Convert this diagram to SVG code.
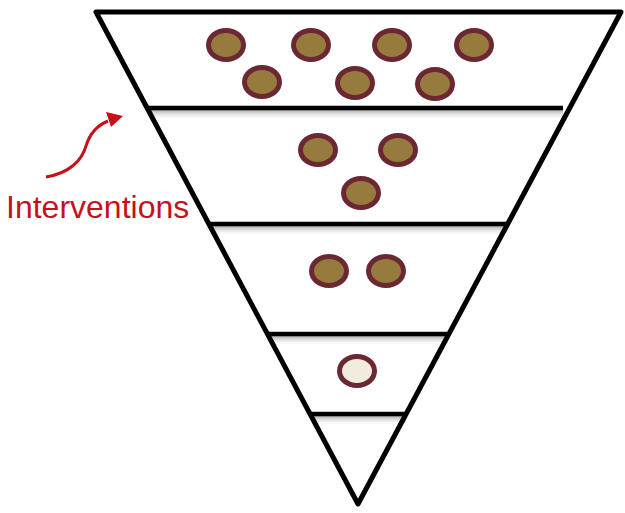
<svg xmlns="http://www.w3.org/2000/svg" width="625" height="513" viewBox="0 0 625 513">
<style>
.edge{fill:none;stroke:#000;stroke-width:5;stroke-linejoin:round}
.div{stroke:#000;stroke-width:4.5;fill:none}
.dot{fill:#977A3D;stroke:#6B2833;stroke-width:5}
.dot-empty{fill:#F3EBDD;stroke:#6B2833;stroke-width:5}
.lbl{font-family:"Liberation Sans",Arial,sans-serif;font-size:32px;fill:#C8101A}
</style>
<defs>
<linearGradient id="sh" x1="0" y1="0" x2="0" y2="1">
<stop offset="0" stop-color="#888" stop-opacity="0.7"/>
<stop offset="1" stop-color="#fff" stop-opacity="0"/>
</linearGradient>
</defs>
<rect width="625" height="513" fill="#fff"/>
<g id="funnel">
<rect x="150" y="110" width="413" height="10" fill="url(#sh)"/>
<rect x="212" y="226" width="296" height="10" fill="url(#sh)"/>
<rect x="270" y="336" width="178" height="10" fill="url(#sh)"/>
<rect x="313" y="416" width="93" height="10" fill="url(#sh)"/>
<polygon class="edge" points="96,12 621,12 358,504"/>
<line class="div" x1="147" y1="108" x2="563" y2="108"/>
<line class="div" x1="209" y1="224" x2="508" y2="224"/>
<line class="div" x1="268" y1="334" x2="449" y2="334"/>
<line class="div" x1="310" y1="414" x2="406" y2="414"/>
</g>
<g id="tier1">
<ellipse class="dot" cx="226" cy="45" rx="17.5" ry="14.5"/>
<ellipse class="dot" cx="311" cy="45" rx="17.5" ry="14.5"/>
<ellipse class="dot" cx="392" cy="45" rx="17.5" ry="14.5"/>
<ellipse class="dot" cx="474" cy="45" rx="17.5" ry="14.5"/>
<ellipse class="dot" cx="262" cy="82" rx="17.5" ry="14.5"/>
<ellipse class="dot" cx="355" cy="83" rx="17.5" ry="14.5"/>
<ellipse class="dot" cx="435" cy="84" rx="17.5" ry="14.5"/>
</g>
<g id="tier2">
<ellipse class="dot" cx="318" cy="150" rx="17.5" ry="14.5"/>
<ellipse class="dot" cx="398" cy="150" rx="17.5" ry="14.5"/>
<ellipse class="dot" cx="361" cy="193" rx="17.5" ry="14.5"/>
</g>
<g id="tier3">
<ellipse class="dot" cx="329" cy="271" rx="17.5" ry="14.5"/>
<ellipse class="dot" cx="386" cy="271" rx="17.5" ry="14.5"/>
</g>
<g id="tier4">
<ellipse class="dot-empty" cx="357" cy="371" rx="17.5" ry="14.5"/>
</g>
<g id="connectors">
<path d="M46,177 C70,173 82,160 86,146 C90,133 98,125 108,121" fill="none" stroke="#C8101A" stroke-width="3"/>
<polygon points="123,116 106,112 111,127" fill="#C8101A"/>
</g>
<g id="label">
<text class="lbl" x="6" y="218">Interventions</text>
</g>
</svg>
